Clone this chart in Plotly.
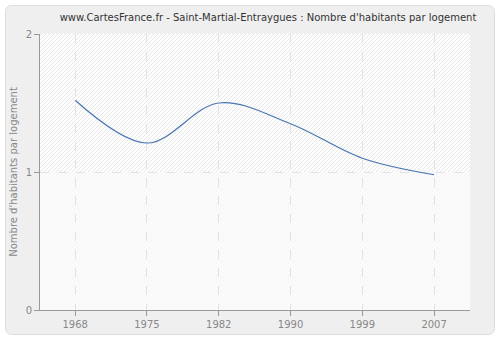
import base64
import plotly.graph_objects as go

# Census years and average number of inhabitants per dwelling
years = ["1968", "1975", "1982", "1990", "1999", "2007"]
habitants_par_logement = [1.52, 1.21, 1.50, 1.35, 1.10, 0.98]
y_ticks = [0, 1, 2]

title_text = "www.CartesFrance.fr - Saint-Martial-Entraygues : Nombre d'habitants par logement"
y_title = "Nombre d'habitants par logement"

W, H = 500, 340
L, R, T, B = 40, 30, 34, 30
pw, ph = W - L - R, H - T - B
mid = T + ph / 2  # pixel row of the y = 1 gridline

# Background: rounded grey panel plus a hatched plotting area
svg = f"""<svg xmlns='http://www.w3.org/2000/svg' width='{W}' height='{H}' viewBox='0 0 {W} {H}'>
<defs>
<pattern id='h' patternUnits='userSpaceOnUse' width='4' height='4'>
<rect width='4' height='4' fill='#fdfdfd'/>
<path d='M-1,1 l2,-2 M0,4 l4,-4 M3,5 l2,-2' stroke='#e9e9e9' stroke-width='1'/>
</pattern>
</defs>
<rect x='5.5' y='5.5' width='489' height='329' rx='6' ry='6' fill='#efefef' stroke='#dddddd'/>
<rect x='{L}' y='{T}' width='{pw}' height='{ph}' fill='url(#h)'/>
<rect x='{L}' y='{mid}' width='{pw}' height='{ph / 2}' fill='#f9f9f9' fill-opacity='0.7'/>
</svg>"""
bg_src = "data:image/svg+xml;base64," + base64.b64encode(svg.encode()).decode()

idx = list(range(len(years)))

fig = go.Figure()
fig.add_trace(go.Scatter(
    x=idx, y=habitants_par_logement, mode="lines",
    line=dict(color="#4a77b0", width=1.2, shape="spline", smoothing=1.0),
    hoverinfo="skip", showlegend=False,
))

fig.update_layout(
    width=W, height=H,
    margin=dict(l=L, r=R, t=T, b=B, autoexpand=False),
    paper_bgcolor="white",
    plot_bgcolor="rgba(0,0,0,0)",
    font=dict(family="DejaVu Sans", size=10, color="#888888"),
    title=dict(text=title_text, x=268 / W, xanchor="center",
               y=1 - 17 / H, yanchor="middle",
               font=dict(family="DejaVu Sans", size=10, color="#333333")),
    images=[dict(
        source=bg_src, xref="paper", yref="paper", layer="below",
        x=-L / pw, y=1 + T / ph, sizex=W / pw, sizey=H / ph,
        xanchor="left", yanchor="top", sizing="stretch",
    )],
    xaxis=dict(
        range=[-0.49, 5.5], tickmode="array", tickvals=idx, ticktext=years,
        showline=True, linecolor="#999999", linewidth=1,
        ticks="outside", ticklen=5, tickcolor="#999999",
        showgrid=True, gridcolor="#e2e2e2", griddash="dash", gridwidth=1,
        zeroline=False, fixedrange=True, automargin=False,
    ),
    yaxis=dict(
        range=[0, 2], tickmode="array", tickvals=y_ticks,
        showline=True, linecolor="#999999", linewidth=1,
        ticks="outside", ticklen=5, tickcolor="#999999",
        showgrid=True, gridcolor="#e2e2e2", griddash="dash", gridwidth=1,
        zeroline=False, fixedrange=True, automargin=False,
        title=dict(text=y_title, standoff=6, font=dict(size=10, color="#888888")),
    ),
)

fig.write_html("out.html", config={"displayModeBar": False})
